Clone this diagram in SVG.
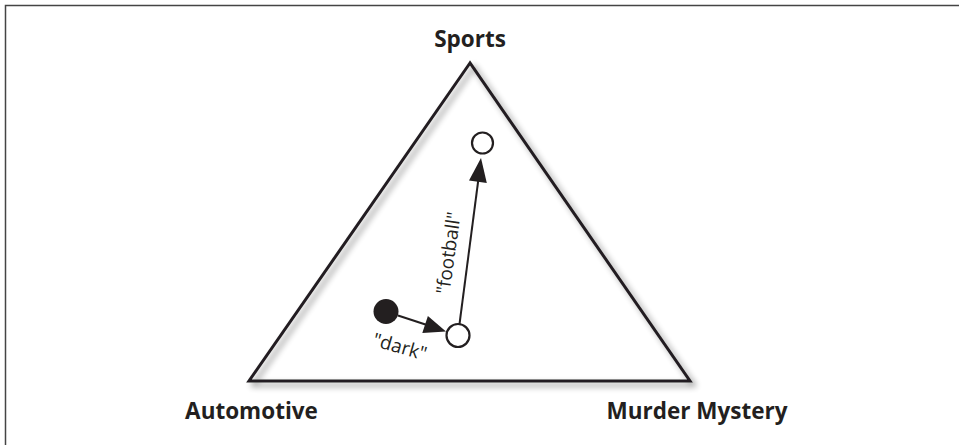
<svg xmlns="http://www.w3.org/2000/svg" width="959" height="445" viewBox="0 0 959 445">
<style>
.lbl{font-family:"Open Sans","Liberation Sans",sans-serif;font-weight:bold;font-size:22.5px;fill:#231f20;text-anchor:middle}
.edge{font-family:"Open Sans","Liberation Sans",sans-serif;font-size:19px;fill:#231f20;text-anchor:middle}
.line{stroke:#231f20;stroke-width:2;fill:none}
</style>
<defs>
<filter id="sh" x="-10%" y="-10%" width="130%" height="130%">
<feGaussianBlur in="SourceAlpha" stdDeviation="3"/>
<feOffset dx="4" dy="4" result="b"/>
<feComponentTransfer><feFuncA type="linear" slope="0.45"/></feComponentTransfer>
<feMerge><feMergeNode/><feMergeNode in="SourceGraphic"/></feMerge>
</filter>
</defs>
<rect width="959" height="445" fill="#fff"/>
<path d="M5.5,445 V5.5 H959" stroke="#444" stroke-width="1.5" fill="none"/>
<g id="triangle">
<polygon points="470,63 249,381 690,381" fill="none" stroke="#231f20" stroke-width="3" stroke-linejoin="miter" filter="url(#sh)"/>
</g>
<g id="labels">
<text class="lbl" x="470" y="47">Sports</text>
<text class="lbl" x="251.5" y="419">Automotive</text>
<text class="lbl" x="697" y="419">Murder Mystery</text>
</g>
<g id="connectors">
<path d="M398,315.5 L427,325" class="line"/>
<polygon points="446,331.5 427.9,316 422.3,333" fill="#231f20"/>
<path d="M459.5,324 L478.3,180" class="line"/>
<polygon points="481,158 469,180.6 486.8,183" fill="#231f20"/>
<text class="edge" transform="translate(455,254) rotate(-82)">"football"</text>
<text class="edge" transform="translate(398,353) rotate(16)">"dark"</text>
</g>
<g id="n-dark">
<circle cx="386" cy="311.5" r="12.5" fill="#231f20"/>
</g>
<g id="n-mid">
<circle cx="458" cy="335.5" r="11.5" fill="#fff" stroke="#231f20" stroke-width="2.2"/>
</g>
<g id="n-top">
<circle cx="482.5" cy="143" r="10.5" fill="#fff" stroke="#231f20" stroke-width="2.2"/>
</g>
</svg>
